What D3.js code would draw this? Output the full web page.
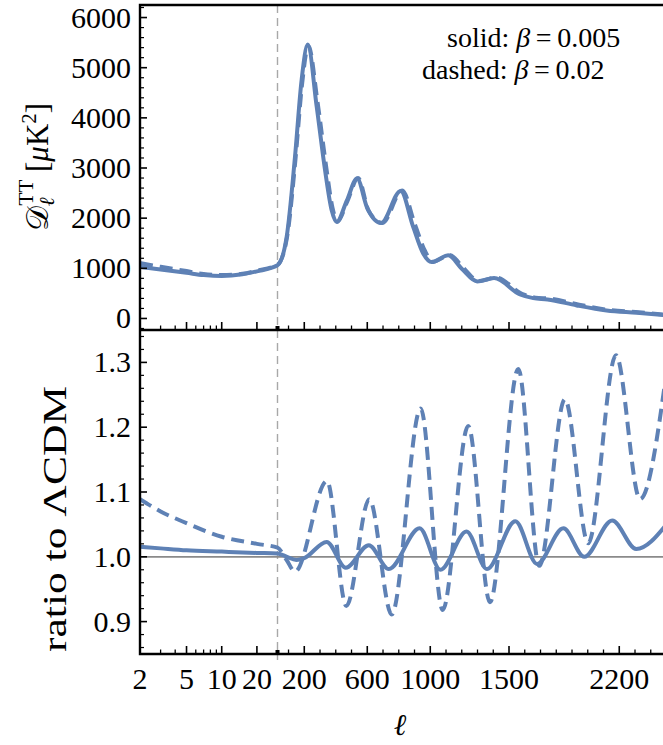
<!DOCTYPE html>
<html><head><meta charset="utf-8">
<script src="https://cdn.jsdelivr.net/npm/d3@7"></script>
</head>
<body style="margin:0">
<svg id="c" width="663" height="745" style="display:block;background:#fff"></svg>
<script>
// ---------- data ----------
const xTickVals   = [2, 5, 10, 20, 200, 600, 1000, 1500, 2200];
const xTickLabels = ["2", "5", "10", "20", "200", "600", "1000", "1500", "2200"];
const xMinorTicks = [3, 4, 6, 7, 8, 9, 100, 300, 400, 500, 700, 800, 900, 1100, 1200, 1300, 1400,
                     1600, 1700, 1800, 1900, 2000, 2100, 2300, 2400];
const yTopTicks   = [0, 1000, 2000, 3000, 4000, 5000, 6000];
const yBotTicks   = [0.9, 1.0, 1.1, 1.2, 1.3];
const yBotLabels  = ["0.9", "1.0", "1.1", "1.2", "1.3"];

// upper panel: D_l^TT, solid (beta = 0.005)
const ellTTsolid = [2, 3, 5, 7, 10, 15, 20, 30, 88, 141, 183, 222, 279, 332, 374, 406, 470, 535, 600,
                    688, 812, 892, 956, 1009, 1114, 1200, 1298, 1405, 1570, 1654, 1745, 1930, 2120, 2311, 2500];
const dlTTsolid  = [1030, 975, 910, 865, 845, 880, 940, 1060, 1623, 3221, 4752, 5460, 4220, 2955, 2156, 1923, 2350, 2790, 2200,
                    1903, 2542, 1823, 1292, 1124, 1258, 992, 739, 805, 479, 405, 380, 260, 160, 114, 65];
// upper panel: D_l^TT, dashed (beta = 0.02)
const ellTTdashed = [2, 3, 5, 7, 10, 15, 20, 30, 90, 144, 187, 226, 284, 338, 379, 411, 474, 542, 608,
                     696, 822, 902, 966, 1018, 1124, 1210, 1308, 1418, 1582, 1668, 1758, 1945, 2135, 2325, 2500];
const dlTTdashed  = [1105, 1030, 945, 885, 865, 890, 953, 1072, 1610, 3170, 4700, 5440, 4320, 3050, 2210, 1935, 2340, 2800, 2150,
                     1905, 2550, 1880, 1350, 1130, 1265, 1010, 745, 815, 490, 415, 395, 275, 170, 122, 75];

// lower panel: ratio to LCDM, solid
const ellRatioSolid = [2, 3, 5, 10, 20, 30, 80, 150, 200, 342, 464, 610, 737, 932, 1065, 1230, 1360,
                       1540, 1678, 1845, 1978, 2155, 2308, 2500];
const ratioSolid    = [1.0155, 1.013, 1.010, 1.008, 1.006, 1.005, 1.001, 0.995, 0.998, 1.023, 0.983, 1.018, 0.981,
                       1.044, 0.980, 1.039, 0.981, 1.055, 0.989, 1.044, 1.000, 1.056, 1.012, 1.050];
// lower panel: ratio to LCDM, dashed
const ellRatioDashed = [2, 3, 5, 10, 20, 30, 88, 141, 344, 467, 613, 755, 939, 1079, 1241, 1379,
                        1559, 1692, 1855, 2003, 2179, 2332, 2500];
const ratioDashed    = [1.089, 1.070, 1.052, 1.031, 1.020, 1.014, 0.995, 0.977, 1.117, 0.924, 1.089, 0.911, 1.229, 0.918,
                        1.202, 0.930, 1.290, 0.986, 1.243, 1.021, 1.311, 1.089, 1.285];

// ---------- layout ----------
const L = 140, R = 670, T1 = 5, B1 = 330, T2 = 330, B2 = 654;
const blue = "#5E81B5";
const FONT = "'Liberation Serif'";

const svg = d3.select("#c");

const xLog = d3.scaleLog().domain([2, 30]).range([L, 277.5]);
const xLin = d3.scaleLinear().domain([30, 2500]).range([277.5, 666.5]);
const x = l => (l <= 30 ? xLog(l) : xLin(l));

const yTop = d3.scaleLinear().domain([-230, 6250]).range([B1, T1]);
const yBot = d3.scaleLinear().domain([0.85, 1.35]).range([B2, T2]);

// clip
const defs = svg.append("defs");
defs.append("clipPath").attr("id", "clipTop")
  .append("rect").attr("x", L).attr("y", T1).attr("width", R - L).attr("height", B1 - T1);
defs.append("clipPath").attr("id", "clipBot")
  .append("rect").attr("x", L).attr("y", T2).attr("width", R - L).attr("height", B2 - T2);

// vertical dashed line at l = 30
svg.append("line").attr("x1", x(30)).attr("x2", x(30)).attr("y1", T1).attr("y2", B2 + 6)
  .attr("stroke", "#a8a8a8").attr("stroke-width", 1.4).attr("stroke-dasharray", "8,5");

// reference line at 1
svg.append("line").attr("x1", L).attr("x2", R).attr("y1", yBot(1)).attr("y2", yBot(1))
  .attr("stroke", "#8a8a8a").attr("stroke-width", 1.8);

const curve = d3.curveMonotoneX;
function drawLine(g, ells, vals, yS, dashed) {
  const pts = ells.map((l, i) => [x(l), yS(vals[i])]);
  g.append("path").datum(pts)
    .attr("d", d3.line().curve(curve))
    .attr("fill", "none").attr("stroke", blue)
    .attr("stroke-width", 4)
    .attr("stroke-linejoin", "round")
    .attr("stroke-dasharray", dashed ? "13,7" : null);
}
const gTop = svg.append("g").attr("clip-path", "url(#clipTop)");
drawLine(gTop, ellTTdashed, dlTTdashed, yTop, true);
drawLine(gTop, ellTTsolid, dlTTsolid, yTop, false);
const gBot = svg.append("g").attr("clip-path", "url(#clipBot)");
drawLine(gBot, ellRatioDashed, ratioDashed, yBot, true);
drawLine(gBot, ellRatioSolid, ratioSolid, yBot, false);

// frames
const frame = svg.append("g").attr("stroke", "#000").attr("stroke-width", 2.4).attr("fill", "none");
frame.append("path").attr("d", `M${R},${T1}H${L}V${B2}H${R}`);
frame.append("path").attr("d", `M${L},${B1}H${R}`);

// x ticks (both panels, pointing up from bottom edges)
[B1, B2].forEach(yb => {
  const g = svg.append("g").attr("stroke", "#000");
  xTickVals.forEach(v => g.append("line").attr("x1", x(v)).attr("x2", x(v))
    .attr("y1", yb).attr("y2", yb - 8).attr("stroke-width", 1.6));
  xMinorTicks.forEach(v => g.append("line").attr("x1", x(v)).attr("x2", x(v))
    .attr("y1", yb).attr("y2", yb - 4.5).attr("stroke-width", 1.3));
  g.append("line").attr("x1", x(30)).attr("x2", x(30)).attr("y1", yb).attr("y2", yb - 4)
    .attr("stroke-width", 4);
});

// y ticks
function yTicks(yS, majors, minorStep, lo, hi) {
  const g = svg.append("g").attr("stroke", "#000");
  majors.forEach(v => g.append("line").attr("x1", L).attr("x2", L + 7)
    .attr("y1", yS(v)).attr("y2", yS(v)).attr("stroke-width", 1.6));
  d3.range(lo, hi + 1e-9, minorStep).forEach(v => {
    if (majors.some(m => Math.abs(m - v) < minorStep / 10)) return;
    g.append("line").attr("x1", L).attr("x2", L + 4)
      .attr("y1", yS(v)).attr("y2", yS(v)).attr("stroke-width", 1.2);
  });
}
yTicks(yTop, yTopTicks, 200, -200, 6200);
yTicks(yBot, yBotTicks, 0.02, 0.86, 1.34);

// text helper
function txt(xx, yy, s, size, anchor) {
  return svg.append("text").attr("x", xx).attr("y", yy)
    .style("font-family", FONT).attr("font-size", size)
    .attr("text-anchor", anchor || "middle").text(s);
}
const fs = 30;
xTickVals.forEach((v, i) => txt(x(v), 689, xTickLabels[i], fs));
yTopTicks.forEach(v => txt(131, yTop(v) + 10, String(v), fs, "end"));
yBotTicks.forEach((v, i) => txt(131, yBot(v) + 10, yBotLabels[i], fs, "end"));

// axis titles
txt(400, 735, "ℓ", 30).style("font-style", "italic");

const yl1 = svg.append("text").attr("transform", "translate(48,167) rotate(-90)")
  .style("font-family", FONT).attr("font-size", 31).attr("text-anchor", "middle");
yl1.append("tspan").text("𝒟");
yl1.append("tspan").attr("font-size", 21).attr("dy", 6).style("font-style", "italic").text("ℓ");
yl1.append("tspan").attr("font-size", 21).attr("dy", -21).attr("dx", -8).text("TT");
yl1.append("tspan").attr("dy", 15).text(" [");
yl1.append("tspan").style("font-style", "italic").text("μ");
yl1.append("tspan").text("K");
yl1.append("tspan").attr("font-size", 21).attr("dy", -12).text("2");
yl1.append("tspan").attr("dy", 12).text("]");

svg.append("text").attr("transform", "translate(66,519) rotate(-90) scale(1.28,1)")
  .style("font-family", FONT).attr("font-size", 34)
  .attr("text-anchor", "middle").text("ratio to ΛCDM");

// annotation
const a1 = svg.append("text").attr("x", 447).attr("y", 47)
  .style("font-family", FONT).attr("font-size", 28);
a1.append("tspan").text("solid: ");
a1.append("tspan").style("font-style", "italic").text("β");
a1.append("tspan").text("\u2009=\u20090.005");
const a2 = svg.append("text").attr("x", 422).attr("y", 79)
  .style("font-family", FONT).attr("font-size", 28);
a2.append("tspan").text("dashed: ");
a2.append("tspan").style("font-style", "italic").text("β");
a2.append("tspan").text("\u2009=\u20090.02");
</script>
</body></html>
